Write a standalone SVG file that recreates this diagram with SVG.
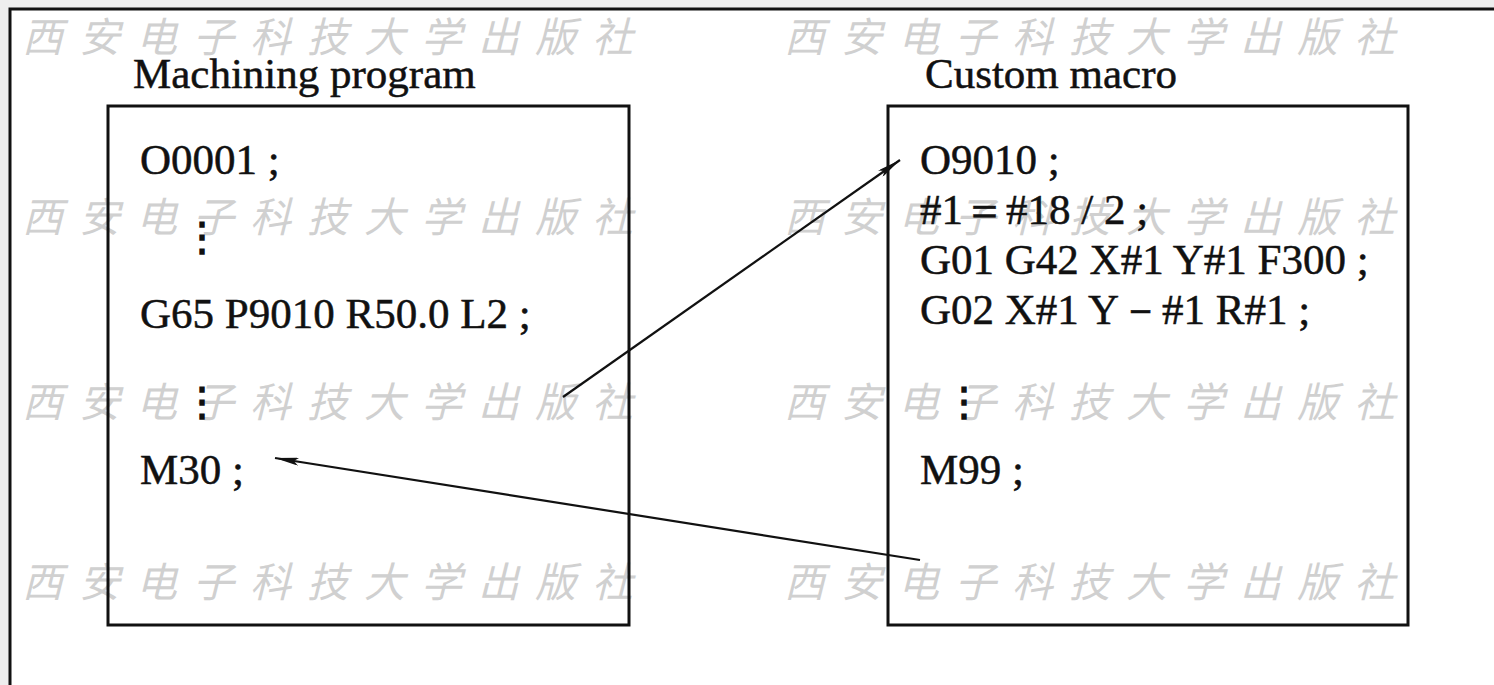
<svg xmlns="http://www.w3.org/2000/svg" width="1494" height="685" viewBox="0 0 1494 685">
<defs>
<style>
.wm{font-family:"Noto Sans CJK SC",sans-serif;font-size:41px;font-style:italic;fill:#d0d0d0;letter-spacing:16px}
.t{font-family:"Liberation Serif",serif;font-size:43px;fill:#111;stroke:#111;stroke-width:0.5}
.h{font-family:"Liberation Serif",serif;font-size:43px;fill:#111;stroke:#111;stroke-width:0.5}
.d{font-family:"Noto Sans CJK SC",sans-serif;font-size:40px;font-weight:bold;fill:#111;text-anchor:middle}
.box{fill:none;stroke:#111;stroke-width:3}
.con{stroke:#111;stroke-width:2.2;fill:none;marker-end:url(#ah)}
</style>
<marker id="ah" viewBox="0 0 24 8" refX="24" refY="4" markerWidth="24" markerHeight="8" markerUnits="userSpaceOnUse" orient="auto">
<path d="M0,0 L24,4 L0,8 L5,4 Z" fill="#111"/>
</marker>
</defs>
<rect x="0" y="0" width="1494" height="685" fill="#eeeeee"/>
<rect x="9" y="8" width="1485" height="677" fill="#ffffff"/>
<path d="M10,685 V9 H1494" fill="none" stroke="#111" stroke-width="3"/>
<g id="watermarks">
<text class="wm" x="22" y="52">西安电子科技大学出版社</text>
<text class="wm" x="784" y="52">西安电子科技大学出版社</text>
<text class="wm" x="22" y="232">西安电子科技大学出版社</text>
<text class="wm" x="784" y="232">西安电子科技大学出版社</text>
<text class="wm" x="22" y="417">西安电子科技大学出版社</text>
<text class="wm" x="784" y="417">西安电子科技大学出版社</text>
<text class="wm" x="22" y="597">西安电子科技大学出版社</text>
<text class="wm" x="784" y="597">西安电子科技大学出版社</text>
</g>
<g id="machining">
<text class="h" x="133" y="88">Machining program</text>
<rect class="box" x="108" y="106" width="521" height="519"/>
<text class="t" x="140" y="174">O0001 ;</text>
<text class="d" x="202" y="250">⋮</text>
<text class="t" x="140" y="328">G65 P9010 R50.0 L2 ;</text>
<text class="d" x="202" y="415">⋮</text>
<text class="t" x="140" y="484">M30 ;</text>
</g>
<g id="macro">
<text class="h" x="925" y="88">Custom macro</text>
<rect class="box" x="888" y="106" width="520" height="519"/>
<text class="t" x="920" y="174">O9010 ;</text>
<text class="t" x="920" y="224">#1＝#18 / 2 ;</text>
<text class="t" x="920" y="274">G01 G42 X#1 Y#1 F300 ;</text>
<text class="t" x="920" y="324">G02 X#1 Y－#1 R#1 ;</text>
<text class="d" x="964" y="415">⋮</text>
<text class="t" x="920" y="484">M99 ;</text>
</g>
<g id="connectors">
<line class="con" x1="563" y1="397" x2="900" y2="160"/>
<line class="con" x1="920" y1="560" x2="275" y2="458"/>
</g>
</svg>
